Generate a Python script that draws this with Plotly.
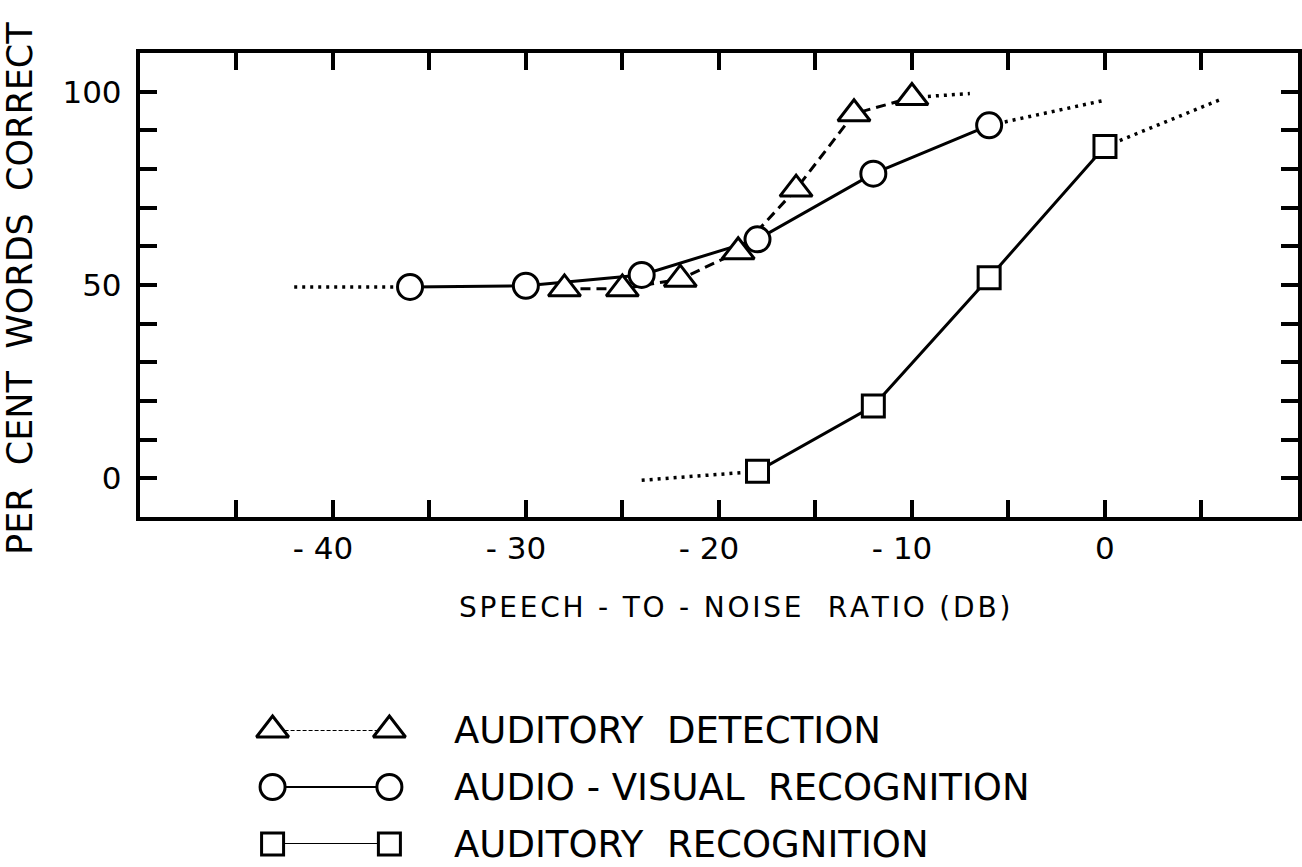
import plotly.graph_objects as go

# ---------------- data ----------------
# Auditory detection  (triangles, dashed line)
det_x = [-28, -25, -22, -19, -16, -13, -10]
det_y = [49.0, 49.0, 51.5, 58.6, 74.8, 94.3, 98.5]
det_ext_right_x = [-7]
det_ext_right_y = [99.5]

# Audio-visual recognition  (circles, solid line)
av_x = [-36, -30, -24, -18, -12, -6]
av_y = [49.5, 49.8, 52.6, 61.8, 78.8, 91.3]
av_ext_left_x = [-42]
av_ext_left_y = [49.5]
av_ext_right_x = [0]
av_ext_right_y = [97.8]

# Auditory recognition  (squares, solid line)
ar_x = [-18, -12, -6, 0]
ar_y = [1.8, 18.7, 51.9, 85.8]
ar_ext_left_x = [-24]
ar_ext_left_y = [-0.5]
ar_ext_right_x = [6]
ar_ext_right_y = [98.0]

x_tick_vals = [-45, -40, -35, -30, -25, -20, -15, -10, -5, 0, 5]
x_tick_labels = ["", "-40", "", "-30", "", "-20", "", "-10", "", "0", ""]
y_tick_vals = [0, 10, 20, 30, 40, 50, 60, 70, 80, 90, 100]
y_tick_labels = ["0", "", "", "", "", "50", "", "", "", "", "100"]

legend_labels = ["AUDITORY  DETECTION", "AUDIO - VISUAL  RECOGNITION", "AUDITORY  RECOGNITION"]
x_title = "SPEECH - TO - NOISE  RATIO (DB)"
y_title = "PER  CENT  WORDS  CORRECT"

# ---------------- styling ----------------
W, H = 1302, 867
INK = "black"
FONT = "DejaVu Sans"


def px_x(p):
    return p / W


def px_y(p):
    return 1 - p / H


def nb(s):
    return s.replace(" ", "\u00a0")


def spaced(s):
    # lettering with a little extra tracking
    out = []
    for i, ch in enumerate(s):
        out.append("\u00a0" if ch == " " else ch)
        if i < len(s) - 1:
            out.append("\u200a")
    return "".join(out)


def pad_minus(t):
    if t.startswith("-"):
        return "-\u00a0" + t[1:] + "\u00a0\u00a0"
    return t


series = [
    dict(x=det_x, y=det_y, sym="triangle-up", size=28, dash="10px,6px",
         ext=[(det_ext_right_x, det_ext_right_y, "right")]),
    dict(x=av_x, y=av_y, sym="circle", size=25, dash="solid",
         ext=[(av_ext_left_x, av_ext_left_y, "left"), (av_ext_right_x, av_ext_right_y, "right")]),
    dict(x=ar_x, y=ar_y, sym="square", size=22, dash="solid",
         ext=[(ar_ext_left_x, ar_ext_left_y, "left"), (ar_ext_right_x, ar_ext_right_y, "right")]),
]

fig = go.Figure()

# dotted extrapolations
for s in series:
    for ex, ey, side in s["ext"]:
        if side == "left":
            xs, ys = ex + s["x"][:1], ey + s["y"][:1]
        else:
            xs, ys = s["x"][-1:] + ex, s["y"][-1:] + ey
        fig.add_trace(go.Scatter(x=xs, y=ys, mode="lines",
                                 line=dict(color=INK, width=3.5, dash="3px,5px"),
                                 hoverinfo="skip", cliponaxis=False))

# connecting lines
for s in series:
    fig.add_trace(go.Scatter(x=s["x"], y=s["y"], mode="lines",
                             line=dict(color=INK, width=3, dash=s["dash"]),
                             hoverinfo="skip"))

# markers
for s in series:
    fig.add_trace(go.Scatter(x=s["x"], y=s["y"], mode="markers",
                             marker=dict(symbol=s["sym"], size=s["size"], color="white",
                                         line=dict(color=INK, width=3)),
                             cliponaxis=False))

# legend keys on a hidden helper axis
for i, s in enumerate(series):
    row = 2 - i
    fig.add_trace(go.Scatter(x=[0, 1], y=[row, row], mode="lines+markers",
                             xaxis="x2", yaxis="y2",
                             line=dict(color=INK, width=2,
                                       dash="4px,2px" if s["dash"] != "solid" else "solid"),
                             marker=dict(symbol=s["sym"], size=s["size"], color="white",
                                         line=dict(color=INK, width=3)),
                             cliponaxis=False, hoverinfo="skip"))

axis_common = dict(showline=True, linecolor=INK, linewidth=4, mirror="ticks",
                   ticks="inside", ticklen=17, tickwidth=3.5, tickcolor=INK,
                   showgrid=False, zeroline=False,
                   tickfont=dict(family=FONT, size=31, color=INK))

fig.update_layout(
    width=W, height=H, margin=dict(l=0, r=0, t=0, b=0),
    paper_bgcolor="white", plot_bgcolor="white", showlegend=False,
    xaxis=dict(range=[-50, 10], domain=[px_x(140), px_x(1300)],
               tickmode="array", tickvals=x_tick_vals,
               ticktext=[pad_minus(t) for t in x_tick_labels],
               ticklabelstandoff=1, **axis_common),
    yaxis=dict(range=[-10, 110], domain=[px_y(517), px_y(53)],
               tickmode="array", tickvals=y_tick_vals, ticktext=y_tick_labels,
               ticklabelstandoff=8, **axis_common),
    xaxis2=dict(range=[0, 1], domain=[px_x(273), px_x(390)], visible=False, anchor="y2"),
    yaxis2=dict(range=[0, 2], domain=[px_y(844), px_y(730)], visible=False, anchor="x2"),
)

annotations = [
    dict(text=spaced(x_title), x=px_x(736), y=px_y(607), xref="paper", yref="paper",
         xanchor="center", yanchor="middle", showarrow=False,
         font=dict(family=FONT, size=28, color=INK)),
    dict(text=nb(y_title), x=px_x(20), y=px_y(288), xref="paper", yref="paper",
         xanchor="center", yanchor="middle", showarrow=False, textangle=-90,
         font=dict(family=FONT, size=35, color=INK)),
]
for i, lab in enumerate(legend_labels):
    annotations.append(dict(text=nb(lab), x=px_x(453), y=2 - i, xref="paper", yref="y2",
                            xanchor="left", yanchor="middle", showarrow=False,
                            font=dict(family=FONT, size=37, color=INK)))
fig.update_layout(annotations=annotations)

fig.write_html("out.html")
